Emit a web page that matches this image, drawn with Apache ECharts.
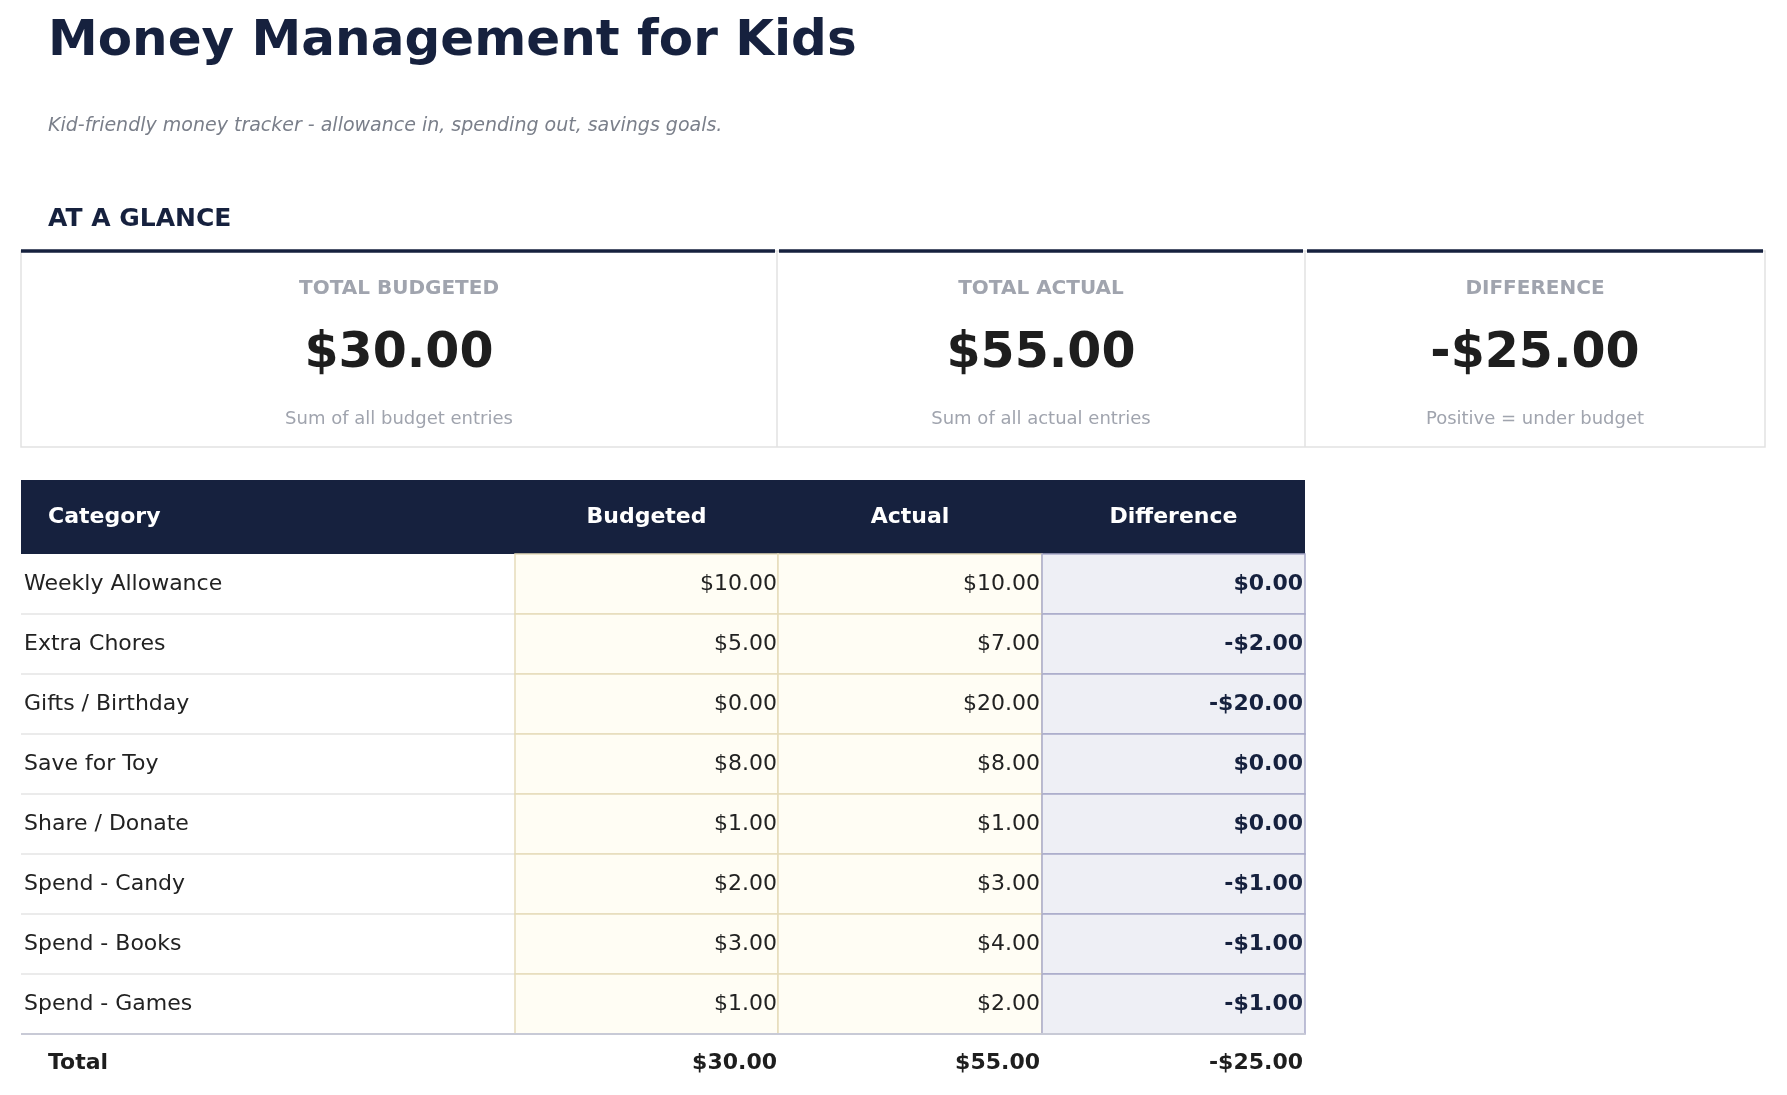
<!DOCTYPE html>
<html lang="en">
<head>
<meta charset="UTF-8">
<title>Money Management for Kids</title>
<style>
  html, body { margin: 0; padding: 0; width: 100%; height: 100%; background: #fff; }
  #chart { width: 1787px; height: 1095px; }
</style>
</head>
<body>
<div id="chart"></div>
<script src="https://cdn.jsdelivr.net/npm/echarts@6.0.0/dist/echarts.min.js"></script>
<script>
const categories = ['Weekly Allowance', 'Extra Chores', 'Gifts / Birthday', 'Save for Toy',
  'Share / Donate', 'Spend - Candy', 'Spend - Books', 'Spend - Games']
const budgeted = [10, 5, 0, 8, 1, 2, 3, 1]
const actual = [10, 7, 20, 8, 1, 3, 4, 2]
const headers = ['Category', 'Budgeted', 'Actual', 'Difference']
const cardLabels = ['TOTAL BUDGETED', 'TOTAL ACTUAL', 'DIFFERENCE']
const cardNotes = ['Sum of all budget entries', 'Sum of all actual entries', 'Positive = under budget']

const NAVY = '#16213e'
const FONT = 'DejaVu Sans'

function money(v) {
  return (v < 0 ? '-$' : '$') + Math.abs(v).toFixed(2)
}

const diff = budgeted.map((b, i) => b - actual[i])
const totB = budgeted.reduce((a, b) => a + b, 0)
const totA = actual.reduce((a, b) => a + b, 0)
const totD = totB - totA

const els = []
function text(x, y, s, size, opts = {}) {
  const font = (opts.italic ? 'italic ' : '') + (opts.weight || 'normal') + ' ' + size + 'px "' + FONT + '"'
  els.push({
    type: 'text', x, y,
    style: {
      text: s, font,
      fill: opts.color || '#222', align: opts.align || 'left', verticalAlign: 'middle'
    }
  })
}
function rect(x, y, w, h, fill, stroke, lw) {
  els.push({ type: 'rect', shape: { x, y, width: w, height: h },
    style: { fill: fill || 'none', stroke: stroke || null, lineWidth: lw || 1 } })
}
function line(x1, y1, x2, y2, color, lw) {
  els.push({ type: 'line', shape: { x1, y1, x2, y2 }, style: { stroke: color, lineWidth: lw || 1 } })
}

// header
text(48, 42, 'Money Management for Kids', 50, { weight: 'bold', color: NAVY })
text(48, 126, 'Kid-friendly money tracker - allowance in, spending out, savings goals.', 19, { italic: true, color: '#7a7f8a' })
text(48, 219, 'AT A GLANCE', 25, { weight: 'bold', color: NAVY })

// cards
const cardX = [21, 777, 1305, 1765]
const cardVals = [totB, totA, totD]
rect(21, 251, 1744, 196, '#fff', '#e2e2e2', 1.5)
for (let i = 0; i < 3; i++) {
  const x0 = cardX[i], x1 = cardX[i + 1], cx = (x0 + x1) / 2
  if (i > 0) line(x0, 251, x0, 447, '#e2e2e2', 1.5)
  line(x0 + (i > 0 ? 2 : 0), 251, x1 - 2, 251, NAVY, 3.5)
  text(cx, 289, cardLabels[i], 20, { weight: 'bold', color: '#a0a4ae', align: 'center' })
  text(cx, 354, money(cardVals[i]), 49, { weight: 'bold', color: '#1e1e1e', align: 'center' })
  text(cx, 419, cardNotes[i], 18, { color: '#a0a4ae', align: 'center' })
}

// table
const colX = [21, 515, 778, 1042, 1305]
const tableTop = 480, headH = 74, rowH = 60
rect(21, tableTop, 1284, headH, NAVY)
text(48, tableTop + headH / 2, headers[0], 22, { weight: 'bold', color: '#fff' })
for (let c = 1; c < 4; c++) {
  text((colX[c] + colX[c + 1]) / 2, tableTop + headH / 2, headers[c], 22, { weight: 'bold', color: '#fff', align: 'center' })
}
const y0 = tableTop + headH
categories.forEach((cat, r) => {
  const y = y0 + r * rowH
  line(21, y + rowH, 515, y + rowH, '#e4e4e4', 1.5)
  rect(515, y, 263, rowH, '#fffdf4', '#e6dcba', 1.5)
  rect(778, y, 264, rowH, '#fffdf4', '#e6dcba', 1.5)
  rect(1042, y, 263, rowH, '#eeeff5', '#a9abc9', 1.5)
  const cy = y + rowH / 2
  text(24, cy, cat, 22, { color: '#222' })
  text(777, cy, money(budgeted[r]), 22, { color: '#222', align: 'right' })
  text(1040, cy, money(actual[r]), 22, { color: '#222', align: 'right' })
  text(1303, cy, money(diff[r]), 22, { weight: 'bold', color: NAVY, align: 'right' })
})
const yEnd = y0 + categories.length * rowH
line(21, yEnd, 1305, yEnd, '#c8cad6', 2)
const ty = yEnd + 29
text(48, ty, 'Total', 22, { weight: 'bold', color: '#1e1e1e' })
text(777, ty, money(totB), 22, { weight: 'bold', color: '#1e1e1e', align: 'right' })
text(1040, ty, money(totA), 22, { weight: 'bold', color: '#1e1e1e', align: 'right' })
text(1303, ty, money(totD), 22, { weight: 'bold', color: '#1e1e1e', align: 'right' })

const chart = echarts.init(document.getElementById('chart'))
chart.setOption({ animation: false, graphic: { elements: els } })
</script>
</body>
</html>
